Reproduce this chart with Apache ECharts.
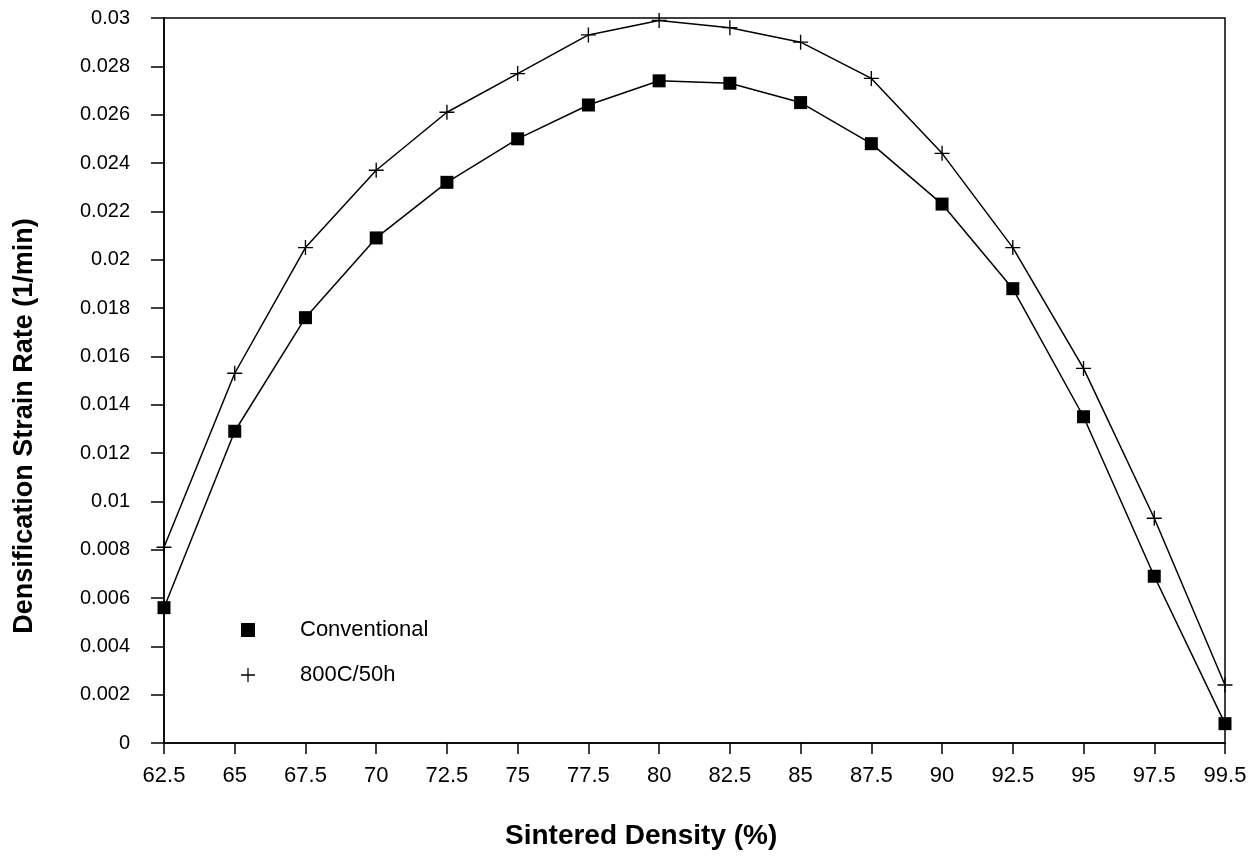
<!DOCTYPE html>
<html>
<head>
<meta charset="utf-8">
<script src="https://cdn.jsdelivr.net/npm/echarts@6/dist/echarts.min.js"></script>
<style>
  html, body { margin: 0; padding: 0; background: #fff; }
  #chart { width: 1258px; height: 857px; }
</style>
</head>
<body>
<div id="chart"></div>
<script>
// sintered density categories (%)
const densities = ['62.5', '65', '67.5', '70', '72.5', '75', '77.5', '80', '82.5', '85', '87.5', '90', '92.5', '95', '97.5', '99.5'];
// densification strain rate (1/min)
const conventional = [0.0056, 0.0129, 0.0176, 0.0209, 0.0232, 0.0250, 0.0264, 0.0274, 0.0273, 0.0265, 0.0248, 0.0223, 0.0188, 0.0135, 0.0069, 0.0008];
const heat800 = [0.0081, 0.0153, 0.0205, 0.0237, 0.0261, 0.0277, 0.0293, 0.0299, 0.0296, 0.0290, 0.0275, 0.0244, 0.0205, 0.0155, 0.0093, 0.0024];

const font = 'Liberation Sans, Arial, sans-serif';
const plusIcon = 'path://M-1,-0.09 L1,-0.09 L1,0.09 L-1,0.09 Z M-0.09,-1 L0.09,-1 L0.09,1 L-0.09,1 Z';

let chart = echarts.init(document.getElementById('chart'));

let option = {
  backgroundColor: '#fff',
  animation: false,
  grid: {
    left: 164,
    right: 33,
    top: 18,
    bottom: 114,
    show: true,
    borderColor: '#000',
    borderWidth: 1.5
  },
  legend: {
    orient: 'vertical',
    left: 236,
    top: 614,
    itemWidth: 14,
    itemHeight: 14,
    itemGap: 23,
    textStyle: {
      fontFamily: font,
      fontSize: 22,
      color: '#000',
      lineHeight: 22,
      padding: [0, 0, 0, 40]
    },
    data: [
      { name: 'Conventional', icon: 'rect', itemStyle: { color: '#000' } },
      { name: '800C/50h', icon: plusIcon, itemStyle: { color: '#000' } }
    ]
  },
  xAxis: {
    type: 'category',
    data: densities,
    boundaryGap: false,
    axisLine: { lineStyle: { color: '#000', width: 1.5 } },
    axisTick: { alignWithLabel: true, length: 11, lineStyle: { color: '#000', width: 1.5 } },
    axisLabel: { color: '#000', fontFamily: font, fontSize: 22, margin: 22, interval: 0 },
    splitLine: { show: false }
  },
  yAxis: {
    type: 'value',
    min: 0,
    max: 0.03,
    interval: 0.002,
    axisLine: { show: true, lineStyle: { color: '#000', width: 1.5 } },
    axisTick: { show: true, length: 13, lineStyle: { color: '#000', width: 1.5 } },
    axisLabel: { color: '#000', fontFamily: font, fontSize: 20, margin: 34 },
    splitLine: { show: false }
  },
  graphic: [
    {
      type: 'text',
      left: 505,
      top: 822,
      style: { text: 'Sintered Density (%)', fontFamily: font, fontSize: 28, fontWeight: 'bold', fill: '#000' }
    },
    {
      type: 'text',
      x: 25,
      y: 426,
      rotation: Math.PI / 2,
      style: {
        text: 'Densification Strain Rate (1/min)',
        fontFamily: font, fontSize: 27, fontWeight: 'bold', fill: '#000',
        align: 'center', verticalAlign: 'middle'
      }
    }
  ],
  series: [
    {
      name: 'Conventional',
      type: 'line',
      data: conventional,
      clip: false,
      symbol: 'rect',
      symbolSize: 13,
      showAllSymbol: true,
      lineStyle: { color: '#000', width: 1.5 },
      itemStyle: { color: '#000' }
    },
    {
      name: '800C/50h',
      type: 'line',
      data: heat800,
      clip: false,
      symbol: plusIcon,
      symbolSize: 15,
      showAllSymbol: true,
      lineStyle: { color: '#000', width: 1.5 },
      itemStyle: { color: '#000' }
    }
  ]
};

chart.setOption(option);
</script>
</body>
</html>
